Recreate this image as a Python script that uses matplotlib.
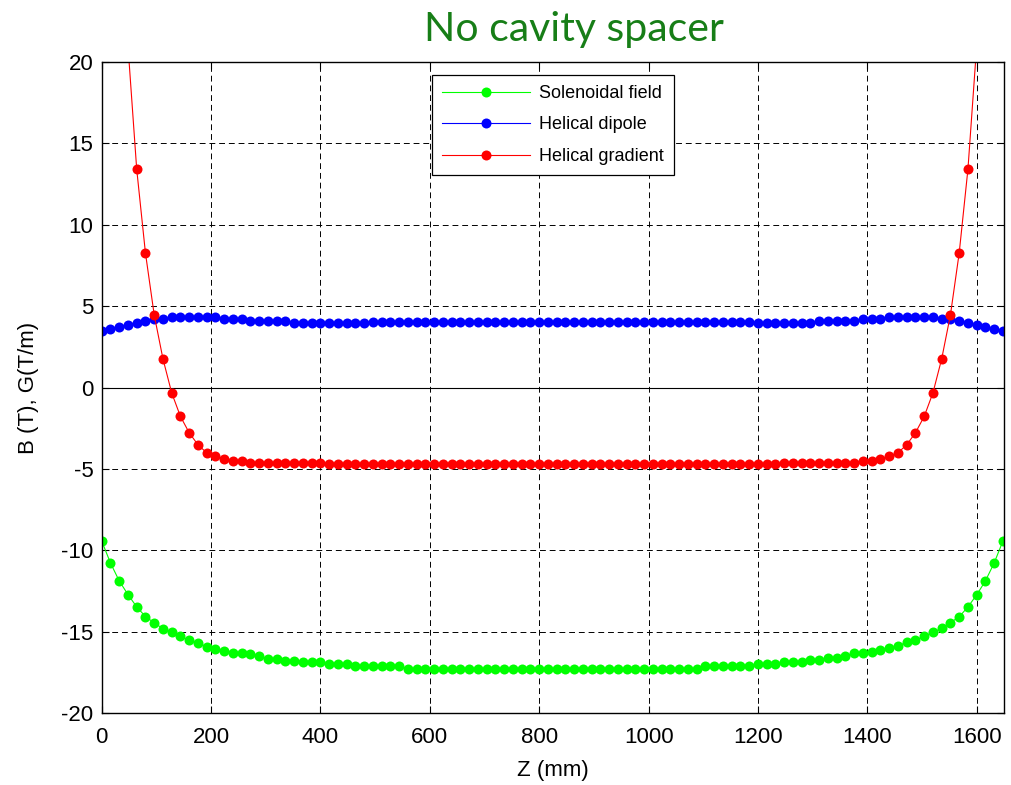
import matplotlib
matplotlib.use("Agg")
import matplotlib.pyplot as plt

# sample positions along the magnet (mm)
z_mm = list(range(0, 1649, 16))

solenoidal = [
    -9.43, -10.78, -11.88, -12.72, -13.48, -14.07, -14.46, -14.81, -15.05, -15.28,
    -15.54, -15.69, -15.93, -16.07, -16.17, -16.30, -16.30, -16.40, -16.50, -16.67,
    -16.67, -16.79, -16.79, -16.89, -16.89, -16.89, -17.01, -17.01, -17.01, -17.12,
    -17.12, -17.12, -17.12, -17.12, -17.12, -17.28, -17.28, -17.28, -17.28, -17.28,
    -17.28, -17.28, -17.28, -17.28, -17.28, -17.28, -17.28, -17.28, -17.28, -17.28,
    -17.28, -17.28, -17.28, -17.28, -17.28, -17.28, -17.28, -17.28, -17.28, -17.28,
    -17.28, -17.28, -17.28, -17.28, -17.28, -17.28, -17.28, -17.28, -17.28, -17.12,
    -17.12, -17.12, -17.12, -17.12, -17.12, -17.01, -17.01, -17.01, -16.89, -16.89,
    -16.89, -16.75, -16.75, -16.64, -16.64, -16.50, -16.34, -16.30, -16.25, -16.13,
    -16.03, -15.89, -15.64, -15.52, -15.28, -15.05, -14.80, -14.44, -14.09, -13.48,
    -12.74, -11.88, -10.78, -9.43,
]

dipole = [
    3.46, 3.60, 3.74, 3.87, 3.97, 4.09, 4.21, 4.21, 4.31, 4.31,
    4.31, 4.31, 4.36, 4.36, 4.21, 4.21, 4.21, 4.09, 4.09, 4.09,
    4.09, 4.09, 3.97, 3.97, 3.97, 3.97, 3.97, 3.97, 3.97, 3.97,
    3.97, 4.05, 4.05, 4.05, 4.05, 4.05, 4.05, 4.05, 4.05, 4.05,
    4.05, 4.05, 4.05, 4.05, 4.05, 4.05, 4.05, 4.05, 4.05, 4.05,
    4.05, 4.05, 4.05, 4.05, 4.05, 4.05, 4.05, 4.05, 4.05, 4.05,
    4.05, 4.05, 4.05, 4.05, 4.05, 4.05, 4.05, 4.05, 4.05, 4.05,
    4.05, 4.05, 4.05, 4.05, 4.05, 3.95, 3.95, 3.95, 3.95, 3.95,
    3.95, 3.95, 4.09, 4.09, 4.09, 4.09, 4.09, 4.21, 4.21, 4.21,
    4.36, 4.36, 4.36, 4.36, 4.36, 4.36, 4.21, 4.21, 4.09, 3.95,
    3.85, 3.70, 3.60, 3.46,
]

gradient = [
    70.0, 48.0, 32.0, 21.0, 13.41, 8.26, 4.46, 1.76, -0.33, -1.78,
    -2.78, -3.52, -4.01, -4.23, -4.38, -4.52, -4.52, -4.62, -4.65, -4.65,
    -4.65, -4.65, -4.65, -4.65, -4.65, -4.65, -4.72, -4.72, -4.72, -4.72,
    -4.72, -4.72, -4.72, -4.72, -4.72, -4.72, -4.72, -4.72, -4.72, -4.72,
    -4.72, -4.72, -4.72, -4.72, -4.72, -4.72, -4.72, -4.72, -4.72, -4.72,
    -4.72, -4.72, -4.72, -4.72, -4.72, -4.72, -4.72, -4.72, -4.72, -4.72,
    -4.72, -4.72, -4.72, -4.72, -4.72, -4.72, -4.72, -4.72, -4.72, -4.72,
    -4.72, -4.72, -4.72, -4.72, -4.72, -4.72, -4.72, -4.72, -4.65, -4.65,
    -4.65, -4.65, -4.65, -4.65, -4.65, -4.65, -4.62, -4.52, -4.52, -4.38,
    -4.23, -4.01, -3.52, -2.78, -1.78, -0.33, 1.76, 4.46, 8.26, 13.41,
    21.0, 32.0, 48.0, 70.0,
]

x_ticks = [0, 200, 400, 600, 800, 1000, 1200, 1400, 1600]
y_ticks = [-20, -15, -10, -5, 0, 5, 10, 15, 20]


def main():
    plt.rcParams['font.family'] = ['Liberation Sans', 'DejaVu Sans']
    plt.rcParams['axes.unicode_minus'] = False

    fig = plt.figure(figsize=(10.11, 7.85), dpi=100)
    ax = fig.add_axes([0.1006, 0.0917, 0.8925, 0.8293])

    style = dict(lw=0.8, marker='o', ms=7.2, mew=0)
    ax.plot(z_mm, solenoidal, color=(0, 1, 0), label='Solenoidal field', **style)
    ax.plot(z_mm, dipole, color=(0, 0, 1), label='Helical dipole', **style)
    ax.plot(z_mm, gradient, color=(1, 0, 0), label='Helical gradient', **style)

    # zero line
    ax.axhline(0, color='k', lw=0.8, zorder=1)

    ax.set_xlim(0, 1650)
    ax.set_ylim(-20, 20)
    ax.set_xticks(x_ticks)
    ax.set_yticks(y_ticks)
    ax.grid(True, color='k', linestyle=(0, (6, 4)), lw=0.7)
    ax.set_axisbelow(True)

    ax.tick_params(direction='in', top=True, right=True, length=5,
                   labelsize=16)
    ax.tick_params(axis='x', pad=10)
    ax.tick_params(axis='y', pad=6)
    for sp in ax.spines.values():
        sp.set_linewidth(1.0)

    ax.set_xlabel('Z (mm)', fontsize=16, labelpad=9)
    ax.set_ylabel('B (T), G(T/m)', fontsize=16, labelpad=16)

    fig.text(0.568, 0.962, 'No cavity spacer', ha='center', va='center',
             fontsize=29.5, color='#177e17', family=['Lato', 'DejaVu Sans'])

    leg = ax.legend(loc='upper left', bbox_to_anchor=(0.3657, 0.980),
                    borderaxespad=0, fontsize=13, fancybox=False,
                    edgecolor='k', framealpha=1, handlelength=4.9,
                    handletextpad=0.5, borderpad=0.55, labelspacing=0.8)
    leg.get_frame().set_linewidth(0.9)

    fig.savefig('out.png', dpi=100)


if __name__ == "__main__":
    main()
